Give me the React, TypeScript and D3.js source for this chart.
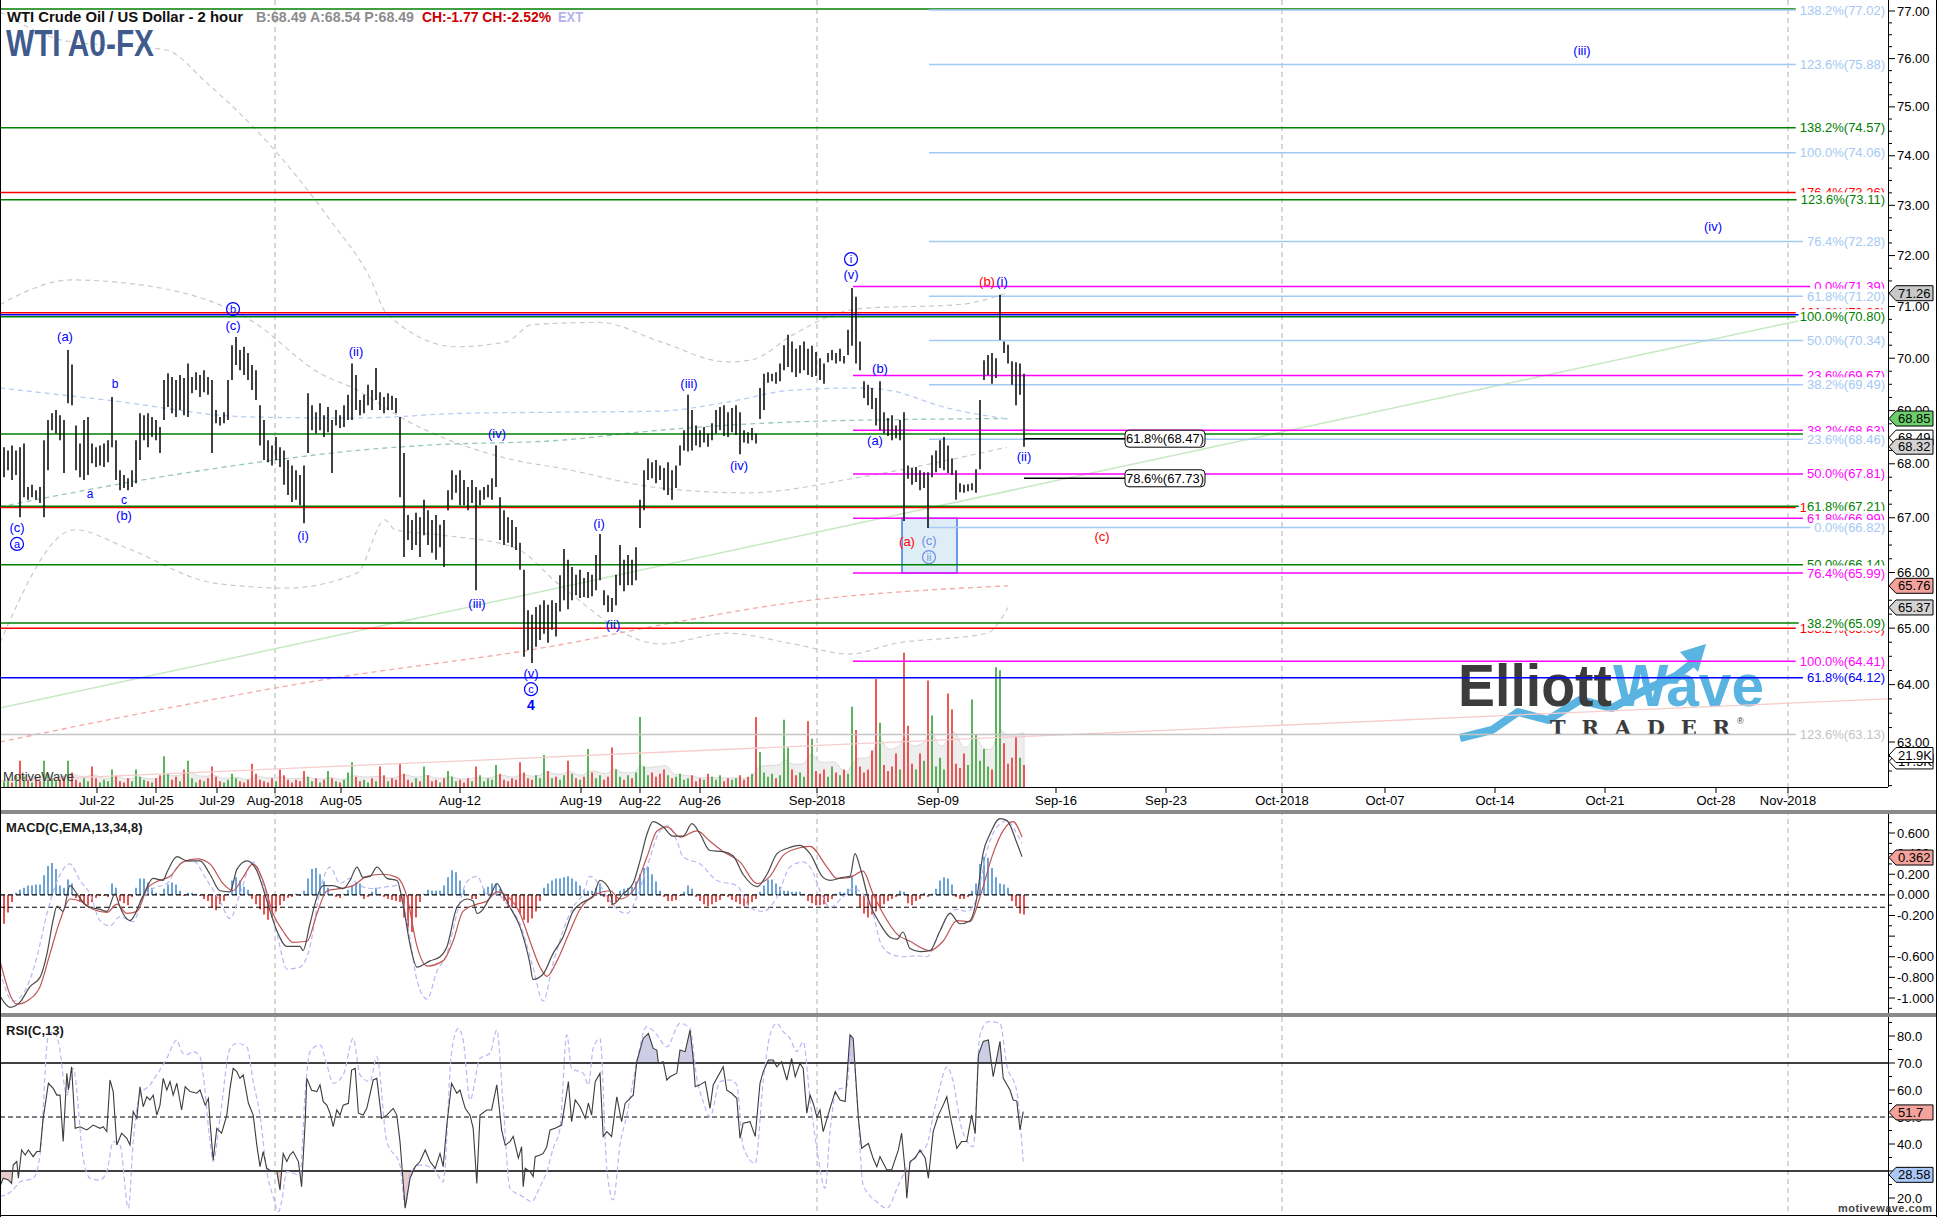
import React, { useEffect, useRef } from 'react';
import * as d3 from 'd3';

const W = 1937;
const H = 1217;
const FONT = '"Liberation Sans", Arial, Helvetica, sans-serif';

// ---------- price bars (2-hour OHLC highs / lows) ----------
const barHigh = [
  68.31,68.25,68.34,68.25,68.31,68.38,67.57,67.61,67.51,67.57,
  68.44,68.82,68.95,69.01,68.91,68.82,70.16,69.88,68.72,68.38,
  68.82,68.88,68.38,68.31,68.34,68.38,68.44,69.26,68.44,67.88,
  67.79,67.73,67.88,68.44,68.95,68.91,68.95,68.88,68.82,68.69,
  69.58,69.71,69.64,69.58,69.68,69.62,69.90,69.64,69.73,69.68,
  69.77,69.64,69.58,69.01,68.88,68.97,69.58,70.25,70.41,70.16,
  70.22,70.10,69.87,69.77,69.10,68.82,68.44,68.34,68.50,68.31,
  68.25,68.07,67.97,67.88,67.79,67.97,69.33,69.10,68.97,69.14,
  68.91,69.07,68.82,69.01,68.91,69.10,69.30,69.90,69.68,69.20,
  69.30,69.49,69.39,69.81,69.35,69.26,69.33,69.28,69.24,68.88,
  68.20,67.05,66.96,67.09,67.01,67.33,67.14,66.96,67.05,66.87,
  66.96,67.51,67.88,67.79,67.88,67.70,67.57,67.70,67.57,67.51,
  67.57,67.61,67.73,68.34,67.38,67.14,67.01,66.96,66.83,66.54,
  66.05,65.32,65.24,65.38,65.42,65.50,65.42,65.50,65.45,65.95,
  66.43,66.23,66.10,65.96,66.05,65.90,66.01,65.96,66.32,66.70,
  65.68,65.59,65.54,65.96,66.50,66.23,66.32,66.23,66.46,67.33,
  67.88,68.10,68.03,68.07,67.97,67.92,68.03,67.88,67.97,68.34,
  68.63,69.30,69.01,68.72,68.63,68.69,68.57,68.76,69.01,69.07,
  69.10,68.97,69.05,69.10,68.97,68.63,68.59,68.67,68.57,69.43,
  69.70,69.73,69.70,69.73,69.90,70.25,70.45,70.32,70.18,70.25,
  70.32,70.18,70.24,70.12,70.00,69.90,70.10,70.16,70.10,70.18,
  70.04,70.55,71.36,71.19,70.32,69.56,69.49,69.43,69.24,69.56,
  68.97,68.86,68.91,68.72,68.82,68.97,67.97,67.92,67.94,67.88,
  67.84,67.84,68.16,68.25,68.44,68.50,68.34,68.10,67.88,67.64,
  67.61,67.62,67.64,67.90,69.20,69.96,70.06,70.10,70.00,71.23,
  70.32,70.26,69.94,69.92,69.90,69.70,
];
const barLow = [
  67.75,67.88,67.70,67.79,67.01,67.38,67.33,67.38,67.33,67.27,
  67.01,67.88,68.63,68.57,68.44,67.83,69.14,69.10,67.88,67.75,
  67.70,67.79,68.01,67.94,67.97,67.94,68.03,68.31,67.70,67.51,
  67.55,67.51,67.57,67.64,68.07,68.44,68.31,68.50,68.44,68.20,
  68.82,69.07,68.95,68.88,69.01,68.91,68.88,69.33,69.39,69.26,
  69.35,69.30,68.20,68.76,68.72,68.76,68.82,69.58,69.87,69.77,
  69.68,69.58,69.39,69.20,68.34,68.07,68.03,67.97,68.07,67.94,
  67.61,67.42,67.29,67.33,67.23,66.90,68.20,68.63,68.57,68.63,
  68.50,68.59,67.83,68.72,68.67,68.69,68.82,68.82,69.01,68.91,
  68.95,69.10,69.01,69.20,69.01,68.95,69.01,69.01,68.95,67.38,
  66.28,66.59,66.41,66.50,66.28,66.68,66.50,66.36,66.23,66.46,
  66.10,67.14,67.33,67.46,67.23,67.23,67.14,67.27,65.68,67.23,
  67.33,67.38,67.33,67.57,66.59,66.50,66.54,66.46,66.41,66.05,
  64.49,64.61,64.38,64.67,64.79,64.90,64.74,64.97,64.85,65.30,
  65.50,65.34,65.50,65.59,65.54,65.56,65.54,65.57,65.68,65.86,
  65.41,65.29,65.29,65.41,65.77,65.66,65.77,65.77,65.86,66.81,
  67.14,67.70,67.73,67.64,67.70,67.51,67.42,67.33,67.55,67.97,
  68.25,68.23,68.25,68.34,68.31,68.40,68.32,68.44,68.57,68.63,
  68.52,68.50,68.59,68.54,68.18,68.40,68.38,68.44,68.38,68.84,
  69.01,69.53,69.56,69.51,69.56,69.77,69.83,69.73,69.64,69.71,
  69.77,69.68,69.64,69.66,69.58,69.51,69.92,69.96,69.90,69.94,
  69.90,70.06,70.24,69.90,69.77,69.24,69.10,69.03,68.72,68.63,
  68.57,68.52,68.44,68.48,68.44,66.94,67.72,67.61,67.66,67.51,
  67.55,66.81,67.75,67.84,67.92,67.88,67.83,67.79,67.33,67.47,
  67.46,67.49,67.51,67.46,67.90,69.58,69.68,69.51,69.62,70.35,
  70.10,69.90,69.49,69.10,69.30,68.32,
];

// ---------- volume (thousands) ----------
const volumeK = [
  4,6,3,8,18,7, 5,3,6,4,18,9, 6,4,5,7,18,10, 5,3,6,4,14,6, 3,5,4,12,8,4,
  3,6,4,12,7,5, 4,3,6,8,21,9, 5,7,4,12,18,6, 3,5,4,6,14,7, 4,3,5,9,6,4,
  3,5,16,9,5,4, 3,6,4,12,8,5, 3,5,4,11,7,4, 6,3,5,11,6,4, 3,5,10,17,7,4,
  5,3,6,4,14,8, 4,6,5,16,9,5, 3,6,4,14,8,4, 5,3,6,11,7,4, 5,3,6,4,14,8,
  4,6,5,15,9,5, 4,6,5,17,10,6, 5,8,6,22,11,6, 7,5,8,18,9,6, 5,7,26,10,6,8,
  5,7,27,12,7,5, 8,6,10,48,14,8, 10,7,9,12,8,6, 7,9,5,6,8,4, 6,5,9,7,5,8,
  4,6,5,6,8,5, 7,9,48,24,10,7, 9,6,8,46,27,12, 8,10,7,45,33,11, 9,12,7,14,10,8,
  12,9,55,39,14,10, 12,25,74,44,15,11, 14,23,12,92,42,16, 12,23,18,73,49,14,
  20,12,64,53,16,13, 23,15,60,36,18,26, 14,12,82,80,30,16, 20,34,20,15,
];

// ---------- MACD(C,EMA,13,34,8) ----------
const macdHist = [
  -0.28,-0.17,-0.07,0.02,0.05,0.07,0.09,0.09,0.10,0.10,
  0.19,0.28,0.31,0.25,0.09,0.07,0.15,0.11,-0.03,-0.07,
  -0.09,-0.10,-0.07,-0.03,-0.01,-0.01,-0.02,0.11,0.07,-0.06,
  -0.08,-0.10,-0.02,0.07,0.16,0.16,0.12,0.07,0.02,0.01,
  0.06,0.10,0.12,0.10,0.04,-0.01,0.02,0.02,0.01,-0.01,
  -0.04,-0.06,-0.12,-0.15,-0.09,-0.06,0.01,0.14,0.17,0.14,
  0.08,0.05,-0.04,-0.09,-0.14,-0.19,-0.24,-0.22,-0.16,-0.10,
  -0.06,-0.03,-0.02,0.01,-0.01,0.04,0.16,0.25,0.26,0.20,
  0.13,0.07,0.01,-0.02,-0.03,0.01,0.05,0.09,0.12,0.11,
  -0.04,-0.02,0.03,0.07,0.01,-0.02,-0.04,-0.05,-0.06,-0.07,
  -0.22,-0.35,-0.36,-0.22,-0.07,0.01,0.05,0.04,0.04,0.04,
  0.09,0.17,0.24,0.22,0.14,0.05,0.00,-0.04,-0.04,0.01,
  0.06,0.08,0.11,0.11,0.06,-0.06,-0.12,-0.12,-0.13,-0.18,
  -0.24,-0.27,-0.23,-0.16,-0.06,0.07,0.11,0.14,0.16,0.16,
  0.17,0.18,0.16,0.13,0.09,0.05,0.04,0.04,0.07,0.11,
  -0.02,-0.07,-0.10,-0.07,0.04,0.06,0.07,0.08,0.13,0.20,
  0.26,0.27,0.20,0.13,0.04,-0.02,-0.06,-0.06,-0.05,-0.01,
  0.03,0.09,0.06,-0.02,-0.06,-0.09,-0.11,-0.09,-0.07,-0.05,
  -0.01,-0.02,-0.05,-0.07,-0.09,-0.11,-0.10,-0.07,-0.04,0.03,
  0.09,0.15,0.15,0.11,0.08,0.04,0.04,0.03,0.03,0.03,
  0.01,-0.06,-0.08,-0.10,-0.10,-0.09,-0.07,-0.04,0.01,0.03,
  0.02,0.06,0.19,0.09,-0.12,-0.18,-0.22,-0.19,-0.16,-0.12,
  -0.09,-0.06,-0.04,-0.02,0.04,0.03,-0.08,-0.10,-0.06,-0.04,
  0.02,-0.02,0.01,0.06,0.14,0.17,0.16,0.10,-0.02,-0.04,
  -0.04,-0.02,0.04,0.11,0.30,0.37,0.36,0.26,0.17,0.11,
  0.10,0.07,-0.06,-0.11,-0.18,-0.19,
];
const macdLine = [[-1,-0.98],[1.5,-1.09],[4,-1.04],[6.5,-0.89],[9,-0.80],[10.75,-0.57],[12.25,-0.25],[13.25,-0.11],[14.75,-0.16],[16.5,0.09],[18.25,0.01],[20.75,-0.11],[24,-0.14],[25.75,-0.16],[27.75,0.01],[29,-0.12],[31.5,-0.25],[34.75,-0.01],[37.25,0.16],[39.75,0.14],[40.75,0.22],[43.25,0.37],[45.75,0.33],[49,0.33],[51.5,0.20],[54,0.04],[56.5,0.03],[58.25,0.25],[60.75,0.33],[63.25,0.23],[65.75,-0.06],[68.25,-0.35],[70.75,-0.50],[74,-0.50],[74.75,-0.54],[76.5,-0.28],[78.25,-0.02],[79.75,0.09],[82.25,0.09],[84.75,0.06],[86.5,0.14],[88.25,0.27],[89.75,0.17],[91.5,0.18],[93.25,0.27],[95.75,0.16],[98.25,0.14],[99.75,-0.09],[101.5,-0.48],[103.25,-0.70],[106.5,-0.64],[109,-0.60],[110.75,-0.50],[113.25,-0.12],[115.75,-0.04],[117.25,-0.06],[118.25,-0.18],[119.75,-0.14],[121.5,-0.02],[123.25,0.11],[124.75,0.01],[126.5,-0.12],[129,-0.31],[131.5,-0.67],[132.25,-0.82],[134.75,-0.77],[137.25,-0.57],[139.75,-0.41],[142.25,-0.16],[144.75,-0.07],[147.25,-0.02],[149,0.14],[151.5,0.04],[152.25,-0.09],[154.75,0.01],[157.25,0.11],[159,0.33],[160.75,0.59],[162.25,0.71],[164.75,0.66],[167.25,0.57],[169.75,0.57],[172,0.69],[174,0.59],[176.5,0.43],[179.75,0.42],[182.25,0.38],[184.75,0.20],[188.25,0.08],[190.75,0.20],[193.25,0.40],[195.75,0.45],[199,0.48],[201.5,0.40],[204.75,0.17],[206.5,0.14],[209.75,0.17],[211.5,0.18],[212.75,0.40],[214,0.27],[216.5,-0.09],[219,-0.28],[221.5,-0.41],[223.25,-0.43],[224.75,-0.36],[226.5,-0.52],[229,-0.55],[231.5,-0.54],[234,-0.35],[236.5,-0.18],[239,-0.28],[241.5,-0.25],[243.25,-0.02],[244.75,0.40],[246.5,0.59],[249,0.74],[250.75,0.72],[253.25,0.50],[254.5,0.37]];
const signalLine = [[-1,-0.64],[3.25,-1.06],[6.5,-1.01],[9,-0.89],[11.5,-0.57],[14,-0.25],[16.5,-0.04],[19,-0.06],[22.25,-0.14],[25.75,-0.17],[28.25,-0.09],[30.75,-0.18],[33.25,-0.16],[35.75,0.06],[38.25,0.13],[41.5,0.18],[44.75,0.32],[48.25,0.35],[51.5,0.30],[54.75,0.11],[57.25,0.04],[59.75,0.17],[62.25,0.30],[64.75,0.14],[67.25,-0.18],[69.75,-0.35],[72.25,-0.46],[75.75,-0.45],[78.25,-0.18],[80.75,0.04],[84,0.06],[87.25,0.09],[90.75,0.18],[94.75,0.20],[98.25,0.17],[100.75,-0.02],[103.25,-0.50],[105.75,-0.69],[109.75,-0.64],[112.25,-0.45],[114.75,-0.16],[118.25,-0.09],[120.75,-0.06],[123.25,0.03],[125.75,-0.01],[129,-0.18],[131.5,-0.45],[134,-0.70],[135.75,-0.79],[138.25,-0.64],[141.5,-0.35],[144,-0.14],[148.25,0.01],[151.5,0.04],[154,-0.04],[157.25,0.04],[160.75,0.37],[163.25,0.62],[165.75,0.66],[169,0.56],[173.25,0.62],[176.5,0.52],[179.75,0.42],[184,0.32],[188.25,0.11],[191.5,0.18],[194.75,0.38],[198.25,0.45],[201.5,0.47],[205.75,0.27],[208.25,0.16],[211.5,0.17],[214.75,0.23],[217.25,0.01],[219.75,-0.18],[223.25,-0.38],[226.5,-0.45],[231.5,-0.54],[234.75,-0.45],[238.25,-0.25],[241.5,-0.26],[244,-0.02],[247.25,0.40],[249.75,0.62],[252.25,0.71],[254.5,0.56]];
const macdFast = [[-1,-0.74],[2.25,-1.03],[5.75,-0.89],[8.25,-0.60],[10.75,-0.18],[13.25,0.13],[16.5,0.30],[19,0.14],[21.5,0.01],[24,-0.25],[26.5,-0.30],[29,-0.21],[32.25,-0.26],[34.75,-0.04],[37.25,0.06],[40.75,0.11],[44,0.30],[47.25,0.33],[50.75,0.14],[54,-0.06],[56.5,-0.23],[59,0.01],[62.25,0.32],[65.75,-0.02],[68.25,-0.38],[70.75,-0.72],[74,-0.70],[76.5,-0.50],[79,0.04],[81.5,0.27],[84,0.11],[86.5,0.16],[89,0.09],[92.25,0.06],[95.75,0.08],[98.25,0.09],[100.75,-0.25],[103.25,-0.83],[105.75,-1.01],[108.25,-0.74],[110.75,-0.57],[113.25,-0.18],[115.75,0.13],[118.25,0.18],[120.75,0.01],[123.25,0.01],[125.75,-0.09],[129,-0.28],[132.25,-0.70],[134.75,-1.03],[137.25,-0.67],[139.75,-0.35],[142.25,-0.12],[144.75,0.01],[146.5,0.18],[149,0.09],[151.5,-0.06],[154,-0.16],[155.75,-0.18],[158.25,-0.02],[160.75,0.27],[164,0.62],[166,0.67],[168.25,0.52],[169.75,0.37],[174,0.30],[178.25,0.14],[183.25,0.09],[186.5,-0.12],[189.75,-0.16],[193.25,-0.02],[196.5,0.27],[199.75,0.32],[202.25,0.22],[204,0.04],[206.5,-0.12],[209.75,-0.02],[212.25,0.06],[214.75,0.01],[217.25,-0.18],[219,-0.45],[221.5,-0.57],[224.75,-0.60],[228.25,-0.59],[230.75,-0.60],[233.25,-0.41],[235.75,-0.21],[238.25,-0.14],[240.75,-0.16],[243.25,-0.02],[245.75,0.43],[248.25,0.66],[250.75,0.72],[253.25,0.59],[254.5,0.50]];
const macdRefLines = [0, -0.12];
const macdTickLabels = [0.6, 0.4, 0.2, 0, -0.2, -0.6, -0.8, -1.0];

// ---------- RSI(C,13) ----------
const rsiLine = [[-1,24.2],[-0.2,27.3],[1.1,26.7],[1.9,25.4],[2.3,32.2],[3.2,33.5],[3.6,27.3],[4.4,37.8],[5.3,35.9],[6.1,37.8],[7.3,35.3],[8.2,37.2],[9,37.2],[9.8,49.5],[11.1,62.5],[12.3,60.6],[13.2,58.1],[14,58.1],[14.8,40.9],[15.7,66.2],[16.1,60.0],[16.9,68.6],[17.8,45.8],[19,46.4],[20.7,45.2],[22.3,47.0],[24,45.8],[24.8,46.4],[25.7,44.6],[26.5,63.7],[27.3,59.4],[28.2,39.6],[29.4,44.0],[30.7,42.1],[31.5,39.6],[32.3,52.0],[33.2,49.5],[34,61.2],[34.8,53.8],[35.7,57.5],[36.5,56.3],[37.3,58.1],[38.2,50.7],[39,54.4],[39.8,64.3],[40.7,60.0],[41.5,63.1],[42.3,58.1],[43.2,62.5],[44.4,52.6],[45.3,61.2],[46.5,59.4],[48.2,58.8],[49,60.0],[50.3,54.4],[51.1,56.9],[51.5,48.3],[52.3,34.1],[53.2,45.8],[54.4,44.0],[55.7,50.7],[56.5,60.6],[57.3,68.0],[58.2,66.8],[59,64.3],[59.8,65.6],[61.1,55.1],[62.3,50.7],[63.2,39.6],[64,31.6],[64.8,37.2],[65.7,31.0],[66.9,29.8],[68.2,29.8],[69,23.0],[69.8,36.5],[70.7,33.5],[71.5,36.0],[72.3,37.2],[73.6,33.5],[74.4,24.2],[75.3,48.3],[75.7,64.3],[76.9,59.9],[78.2,59.4],[79,61.9],[79.8,55.7],[80.7,54.4],[81.5,51.4],[82.3,46.4],[83.2,52.6],[84,50.7],[84.8,54.4],[86.1,55.1],[86.9,67.4],[87.8,68.0],[88.6,51.4],[89.8,50.7],[90.7,53.2],[92.3,63.7],[93.2,64.3],[94.4,49.5],[95.7,50.7],[97.3,53.2],[98.2,50.7],[99,40.9],[100.3,16.2],[101.5,27.3],[102.8,31.6],[104,33.5],[105.3,37.8],[106.5,33.5],[107.8,31.0],[109,36.5],[109.8,31.6],[110.7,47.0],[111.9,62.5],[113.2,58.8],[114,60.0],[115.3,53.2],[116.5,50.7],[117.3,45.8],[118.2,25.4],[119,50.7],[120.7,52.6],[121.9,52.6],[123.2,61.9],[124.4,45.2],[125.3,39.6],[126.5,40.9],[127.3,42.8],[128.6,34.8],[129.4,39.0],[129.8,24.2],[130.3,31.0],[131.5,29.8],[132.3,27.9],[132.8,35.3],[134,35.9],[134.8,36.5],[135.7,39.0],[136.5,45.2],[137.8,45.8],[139.4,47.0],[141.1,63.1],[141.9,48.3],[142.8,56.3],[144,53.8],[145.3,49.5],[146.1,55.1],[146.9,50.7],[147.8,63.1],[149,66.2],[149.8,42.8],[150.7,44.6],[151.9,42.8],[153.2,57.5],[154.4,48.3],[155.3,55.1],[157.3,58.1],[158.2,70.5],[159.8,79.1],[161.1,80.9],[162.3,75.4],[163.2,74.8],[163.6,69.9],[164.8,70.5],[165.7,63.7],[166.5,64.9],[168.2,66.2],[169,74.8],[170.3,74.2],[171.5,82.2],[172.3,71.7],[172.8,61.2],[174,61.9],[175.3,63.1],[176.5,53.2],[177.3,61.9],[179.8,68.6],[180.7,59.9],[181.9,58.8],[183.2,56.9],[184,42.1],[184.8,47.7],[186.5,48.3],[187.8,42.8],[189,62.5],[189.8,66.8],[191.1,71.1],[192.3,71.1],[193.2,68.6],[194.4,70.5],[195.7,63.7],[196.9,71.7],[197.8,64.9],[199,69.9],[199.8,68.0],[200.7,51.4],[201.5,58.1],[202.3,55.1],[203.2,50.1],[204,52.6],[204.8,44.6],[206.5,53.2],[207.8,59.4],[209,56.3],[210.3,55.7],[211.5,80.4],[212.3,79.1],[213.6,49.5],[214.4,38.4],[216.1,40.2],[217.3,34.6],[218.2,31.6],[219,35.3],[220.7,30.4],[221.9,30.4],[223.6,37.8],[224.4,44.0],[225.3,29.8],[225.7,19.9],[226.5,33.5],[227.8,34.8],[229,37.8],[230.3,34.8],[231.1,27.3],[232.3,44.6],[233.6,50.7],[234.8,54.4],[235.7,57.5],[236.5,50.7],[238.2,38.4],[239.4,40.9],[240.7,40.9],[241.9,50.7],[242.8,43.9],[243.6,73.0],[244.8,78.0],[246.1,78.5],[247.3,64.9],[249,78.0],[249.8,64.4],[251.5,60.0],[252.3,56.3],[253.2,55.9],[254,45.2],[254.8,52.0]];
const rsiFast = [[-1,20.5],[2.3,23.0],[4,26.0],[7.3,27.3],[9,35.9],[11.1,80.4],[12.3,81.6],[13.6,77.9],[15.7,58.1],[17.3,68.0],[19.8,34.7],[21.5,27.3],[24,26.7],[25.7,29.8],[27.3,40.9],[29,39.6],[31.1,16.2],[32.3,40.9],[34,58.1],[36.5,61.9],[38.2,65.6],[40.7,71.7],[43.2,78.5],[44.4,74.2],[45.7,73.0],[47.3,74.2],[49,72.3],[49.8,65.6],[51.5,40.9],[52.3,33.5],[54,49.5],[56.5,75.4],[58.2,77.3],[60.7,76.0],[62.3,63.1],[64,50.7],[65.7,29.8],[67.3,20.5],[68.6,14.9],[69.4,18.6],[70.7,29.8],[74,28.5],[75.3,59.4],[76.5,74.2],[79,76.7],[80.7,69.3],[82.3,62.5],[84.8,65.6],[87.3,79.1],[89,65.6],[91.5,63.1],[93.2,72.3],[95.7,40.9],[99,32.2],[100.3,16.8],[101.5,29.1],[104,32.2],[107.3,31.0],[109.8,26.0],[111.9,74.2],[113.6,82.8],[114.8,78.5],[116.5,56.3],[119,71.7],[121.5,73.6],[123.2,82.2],[124.8,54.4],[126.5,23.6],[129.8,20.5],[131.9,18.6],[134,24.2],[135.7,29.8],[137.3,38.4],[139,45.8],[140.7,80.4],[141.9,68.0],[144.8,66.2],[146.1,61.9],[147.3,75.4],[149,79.1],[150.7,31.0],[152.3,19.3],[154,39.6],[155.7,50.7],[158.2,70.5],[160.7,83.5],[163.2,80.4],[165.7,76.0],[169,84.7],[171.5,82.8],[173.2,64.3],[174.8,55.7],[176.5,50.1],[179,63.1],[181.5,63.7],[183.2,61.9],[184.8,39.0],[187.8,32.8],[189.8,63.1],[191.5,80.4],[193.2,84.7],[194.8,81.6],[196.5,79.1],[198.2,74.2],[199.8,77.9],[201.5,56.9],[203.2,38.4],[205.3,23.6],[206.5,44.6],[208.2,60.0],[210.7,61.2],[211.9,79.1],[213.2,58.1],[214.8,24.8],[218.2,18.6],[220.7,16.2],[223.6,24.8],[225.7,31.0],[228.2,35.9],[230.7,39.6],[232.3,50.7],[234,61.2],[235.7,68.6],[237.3,63.1],[239.4,45.8],[242.3,39.0],[244,80.4],[246.1,85.3],[249,84.7],[250.7,69.3],[253.2,59.4],[254.8,33.5]];
const rsiTicks = [20, 30, 40, 50, 60, 70, 80];
const rsiBands = [70, 30];

// ---------- overlays on price panel ([bar, price]) ----------
const bandUpper = [[-1,76.98],[15.5,76.37],[40.5,76.18],[50.75,75.49],[66.5,74.22],[81.5,72.71],[91.75,71.52],[95.5,70.88],[113.25,70.22],[125.75,70.32],[132,70.65],[149,70.69],[164,70.32],[180.75,69.93],[186.5,69.96],[197.25,70.45],[205.75,70.79],[214,70.96],[239,71.04],[251,71.27]];
const bandMiddle = [[-1,71.04],[16.75,71.52],[30.25,71.46],[61.5,70.74],[79,69.71],[88.25,69.39],[99,68.88],[127.5,68.07],[139,67.92],[164,67.55],[185.75,67.46],[214,67.75],[250.75,68.31]];
const bandLower = [[-1,64.74],[17.75,66.78],[30.25,66.46],[52.5,65.81],[70.5,65.72],[88.25,65.99],[95.25,66.96],[97.75,66.78],[109.75,66.68],[127.5,66.46],[139,65.77],[164,64.72],[180.75,64.91],[197.25,64.72],[211.5,64.54],[222.25,64.72],[245.75,64.91],[251,65.37]];
const maPink = [[-1,63.0],[25.75,63.38],[79.25,64.08],[138.75,64.70],[163.75,65.05],[197.25,65.46],[251,65.76]];
const maTeal = [[-1,67.20],[34.75,67.70],[67.75,68.07],[88.25,68.25],[106.25,68.35],[139,68.44],[164,68.63],[203.25,68.80],[251.5,68.85]];
const maBlue = [[-1,69.43],[25.75,69.20],[61.5,68.88],[88.25,68.86],[115,68.95],[139,68.97],[164,68.99],[180.75,69.16],[197.25,69.39],[214,69.43],[222.25,69.37],[234.75,69.07],[251,68.84]];
const trendGreen = [[-1,63.59],[448.5,70.72]];
const trendPink = [[-1,62.33],[471,63.75]];

// ---------- fibonacci levels (hidden: label fully covered in the source) ----------
const fibLines = [
  { price: 77.04, label: '200.0%(77.04)', kind: 'green', from: -1, hidden: true },
  { price: 77.02, label: '138.2%(77.02)', kind: 'lightblue', from: 231.25 },
  { price: 75.88, label: '123.6%(75.88)', kind: 'lightblue', from: 231.25 },
  { price: 74.57, label: '138.2%(74.57)', kind: 'green', from: -1 },
  { price: 74.06, label: '100.0%(74.06)', kind: 'lightblue', from: 231.25 },
  { price: 73.26, label: '176.4%(73.26)', kind: 'red', from: -1 },
  { price: 73.11, label: '123.6%(73.11)', kind: 'green', from: -1 },
  { price: 72.28, label: '76.4%(72.28)', kind: 'lightblue', from: 231.25 },
  { price: 71.39, label: '0.0%(71.39)', kind: 'magenta', from: 212.25 },
  { price: 71.20, label: '61.8%(71.20)', kind: 'lightblue', from: 231.25 },
  { price: 70.88, label: '161.8%(70.88)', kind: 'red', from: -1 },
  { price: 70.84, label: '78.6%(70.84)', kind: 'blue', from: -1, hidden: true },
  { price: 70.80, label: '100.0%(70.80)', kind: 'green', from: -1 },
  { price: 70.34, label: '50.0%(70.34)', kind: 'lightblue', from: 231.25 },
  { price: 69.67, label: '23.6%(69.67)', kind: 'magenta', from: 212.25 },
  { price: 69.49, label: '38.2%(69.49)', kind: 'lightblue', from: 231.25 },
  { price: 68.63, label: '38.2%(68.63)', kind: 'magenta', from: 212.25 },
  { price: 68.56, label: '78.6%(68.56)', kind: 'green', from: -1, hidden: true },
  { price: 68.46, label: '23.6%(68.46)', kind: 'lightblue', from: 231.25 },
  { price: 67.81, label: '50.0%(67.81)', kind: 'magenta', from: 212.25 },
  { price: 67.19, label: '161.8%(67.19)', kind: 'red', from: -1 },
  { price: 67.21, label: '61.8%(67.21)', kind: 'green', from: -1 },
  { price: 66.99, label: '61.8%(66.99)', kind: 'magenta', from: 212.25 },
  { price: 66.82, label: '0.0%(66.82)', kind: 'lightblue', from: 231.25 },
  { price: 66.14, label: '50.0%(66.14)', kind: 'green', from: -1 },
  { price: 65.99, label: '76.4%(65.99)', kind: 'magenta', from: 212.25 },
  { price: 65.00, label: '138.2%(65.00)', kind: 'red', from: -1 },
  { price: 65.09, label: '38.2%(65.09)', kind: 'green', from: -1 },
  { price: 64.41, label: '100.0%(64.41)', kind: 'magenta', from: 212.25 },
  { price: 64.12, label: '61.8%(64.12)', kind: 'blue', from: -1 },
  { price: 63.13, label: '123.6%(63.13)', kind: 'gray', from: -1 },
];
const fibColors = {
  green: '#008000', lightblue: '#a4c9f4', red: '#ff0000', magenta: '#ff00ff', blue: '#0000ff', gray: '#c4c4c4',
};
const retraceLevels = [
  { price: 68.47, label: '61.8%(68.47)' },
  { price: 67.73, label: '78.6%(67.73)' },
];
const retraceFrom = 255;
const retraceBox = 280.25;
const waveBox = { bar0: 224.5, bar1: 238.25, top: 66.99, bottom: 65.99 };

// ---------- wave labels ----------
const waveLabels = [
  { bar: 3.25, price: 66.83, text: '(c)' },
  { bar: 3.25, price: 66.52, text: 'a', circle: true },
  { bar: 15.25, price: 70.41, text: '(a)' },
  { bar: 21.5, price: 67.44, text: 'a', small: true },
  { bar: 27.75, price: 69.52, text: 'b', small: true },
  { bar: 30, price: 67.33, text: 'c', small: true },
  { bar: 30, price: 67.05, text: '(b)' },
  { bar: 57.25, price: 70.95, text: 'b', circle: true },
  { bar: 57.25, price: 70.64, text: '(c)' },
  { bar: 74.75, price: 66.68, text: '(i)' },
  { bar: 88, price: 70.12, text: '(ii)' },
  { bar: 118.25, price: 65.45, text: '(iii)' },
  { bar: 123.25, price: 68.56, text: '(iv)' },
  { bar: 131.75, price: 64.20, text: '(v)' },
  { bar: 131.75, price: 63.92, text: 'c', circle: true },
  { bar: 131.75, price: 63.64, text: '4', bold: true },
  { bar: 148.75, price: 66.90, text: '(i)' },
  { bar: 152.25, price: 65.07, text: '(ii)' },
  { bar: 171.25, price: 69.52, text: '(iii)' },
  { bar: 183.75, price: 67.96, text: '(iv)' },
  { bar: 211.75, price: 71.93, text: 'i', circle: true },
  { bar: 211.75, price: 71.62, text: '(v)' },
  { bar: 219, price: 69.81, text: '(b)' },
  { bar: 217.75, price: 68.44, text: '(a)' },
  { bar: 225.75, price: 66.57, text: '(a)', color: '#ff0000' },
  { bar: 231.25, price: 66.59, text: '(c)', color: '#6f8fe8' },
  { bar: 231.25, price: 66.28, text: 'ii', circle: true, color: '#6f8fe8' },
  { bar: 245.75, price: 71.48, text: '(b)', color: '#ff0000' },
  { bar: 249.5, price: 71.48, text: '(i)' },
  { bar: 255, price: 68.13, text: '(ii)' },
  { bar: 274.5, price: 66.66, text: '(c)', color: '#ff0000' },
  { bar: 394.5, price: 76.16, text: '(iii)' },
  { bar: 427.25, price: 72.57, text: '(iv)' },
];

// ---------- axes ----------
const dateTicks = [
  { bar: 23.25, label: 'Jul-22' }, { bar: 38, label: 'Jul-25' }, { bar: 53.25, label: 'Jul-29' },
  { bar: 67.75, label: 'Aug-2018' }, { bar: 84.25, label: 'Aug-05' }, { bar: 114, label: 'Aug-12' },
  { bar: 144.25, label: 'Aug-19' }, { bar: 159, label: 'Aug-22' }, { bar: 174, label: 'Aug-26' },
  { bar: 203.25, label: 'Sep-2018' }, { bar: 233.5, label: 'Sep-09' }, { bar: 263, label: 'Sep-16' },
  { bar: 290.5, label: 'Sep-23' }, { bar: 319.5, label: 'Oct-2018' }, { bar: 345.25, label: 'Oct-07' },
  { bar: 372.75, label: 'Oct-14' }, { bar: 400.25, label: 'Oct-21' }, { bar: 428, label: 'Oct-28' },
  { bar: 446, label: 'Nov-2018' },
];
const monthGrid = [67.75, 203.25, 319.5, 446];
const priceTicks = [63, 64, 65, 66, 67, 68, 69, 70, 71, 72, 73, 74, 75, 76, 77];
const priceTags = [
  { value: 71.26, text: '71.26', fill: '#c8c8c8' },
  { value: 68.85, text: '68.85', fill: '#6ccf6c' },
  { value: 68.49, text: '68.49', fill: '#ffffff' },
  { value: 68.32, text: '68.32', fill: '#d4d4d4' },
  { value: 65.76, text: '65.76', fill: '#f4a39c' },
  { value: 65.37, text: '65.37', fill: '#d4d4d4' },
];
const volumeTags = [
  { value: 17.5, text: '17.5K', fill: '#ffffff' },
  { value: 21.9, text: '21.9K', fill: '#ffffff' },
];
const macdTags = [{ value: 0.362, text: '0.362', fill: '#f4a39c' }];
const rsiTags = [
  { value: 51.7, text: '51.7', fill: '#f4a39c' },
  { value: 28.58, text: '28.58', fill: '#a9c8f6' },
];

export default function App() {
  const ref = useRef(null);

  useEffect(() => {
    const svg = d3.select(ref.current);
    svg.selectAll('*').remove();

    const AX = 1888; // right axis x
    const x = d3.scaleLinear().domain([-1, 471]).range([0, AX]);
    const yP = d3.scaleLog().domain([63, 77]).range([742, 11]);
    const yV = d3.scaleLinear().domain([0, 100]).range([787, 641]);
    const yM = d3.scaleLinear().domain([-1, 0.6]).range([998, 833]);
    const yR = d3.scaleLinear().domain([20, 80]).range([1198, 1036]);

    svg.append('rect').attr('width', W).attr('height', H).attr('fill', '#ffffff');

    const defs = svg.append('defs');
    const clip = (id, y0, h) => defs.append('clipPath').attr('id', id)
      .append('rect').attr('x', 1).attr('y', y0).attr('width', AX - 1).attr('height', h);
    clip('cp-price', 0, 787);
    clip('cp-macd', 814, 199);
    clip('cp-rsi', 1017, 198);
    defs.append('clipPath').attr('id', 'cp-rsi-hi').append('rect')
      .attr('x', 1).attr('y', 1017).attr('width', AX - 1).attr('height', yR(70) - 1017);
    defs.append('clipPath').attr('id', 'cp-rsi-lo').append('rect')
      .attr('x', 1).attr('y', yR(30)).attr('width', AX - 1).attr('height', 1215 - yR(30));

    // month grid lines
    const grid = svg.append('g');
    monthGrid.forEach((b) => {
      grid.append('line').attr('x1', x(b)).attr('x2', x(b)).attr('y1', 0).attr('y2', 1215)
        .attr('stroke', '#b0b0b0').attr('stroke-width', 1).attr('stroke-dasharray', '5,4');
    });

    // ================= PRICE PANEL =================
    const gp = svg.append('g').attr('clip-path', 'url(#cp-price)');

    // volume cloud (rolling mean)
    const volAvg = volumeK.map((_, i) => d3.mean(volumeK.slice(Math.max(0, i - 7), i + 1)));
    gp.append('path').datum(volAvg)
      .attr('d', d3.area().x((d, i) => x(i)).y0(yV(0)).y1((d) => yV(d)).curve(d3.curveBasis))
      .attr('fill', '#eeeeee').attr('stroke', '#dcdcdc').attr('stroke-width', 1);

    const mid = (i) => (barHigh[i] + barLow[i]) / 2;
    volumeK.forEach((v, i) => {
      const up = i === 0 ? true : mid(i) >= mid(i - 1);
      gp.append('line').attr('x1', x(i)).attr('x2', x(i)).attr('y1', yV(0)).attr('y2', yV(v))
        .attr('stroke', up ? '#33a033' : '#e83030').attr('stroke-width', 1.6);
    });

    // logo watermark
    const logo = gp.append('g');
    logo.append('path')
      .attr('d', 'M1460,738 L1492,730 L1518,712 L1548,720 L1580,700 L1612,708 L1645,690 L1676,676 L1694,662')
      .attr('fill', 'none').attr('stroke', '#5ab4e2').attr('stroke-width', 8).attr('stroke-linejoin', 'round');
    logo.append('polygon').attr('points', '1706,644 1680,652 1698,672').attr('fill', '#5ab4e2');
    logo.append('text').attr('x', 1458).attr('y', 706).text('Elliott')
      .attr('font-family', FONT).attr('font-weight', 'bold').attr('font-size', 60)
      .attr('textLength', 154).attr('lengthAdjust', 'spacingAndGlyphs').attr('fill', '#3c3c3c');
    logo.append('text').attr('x', 1613).attr('y', 706).text('Wave')
      .attr('font-family', FONT).attr('font-weight', 'bold').attr('font-size', 60)
      .attr('textLength', 151).attr('lengthAdjust', 'spacingAndGlyphs').attr('fill', '#5ab4e2');
    logo.append('text').attr('x', 1550).attr('y', 735).text('TRADER')
      .attr('font-family', '"DejaVu Serif", "Liberation Serif", serif').attr('font-weight', 'bold').attr('font-size', 21)
      .attr('textLength', 180).attr('lengthAdjust', 'spacing').attr('fill', '#3c3c3c');
    logo.append('text').attr('x', 1737).attr('y', 724).text('®')
      .attr('font-family', FONT).attr('font-size', 9).attr('fill', '#3c3c3c');

    // trend lines & moving averages
    const lineP = d3.line().x((d) => x(d[0])).y((d) => yP(d[1]));
    const smoothP = d3.line().x((d) => x(d[0])).y((d) => yP(d[1])).curve(d3.curveMonotoneX);
    gp.append('path').datum(trendPink).attr('d', lineP).attr('fill', 'none').attr('stroke', '#f6cccc').attr('stroke-width', 1.3);
    gp.append('path').datum(trendGreen).attr('d', lineP).attr('fill', 'none').attr('stroke', '#c6e8c2').attr('stroke-width', 1.5);
    [bandUpper, bandMiddle, bandLower].forEach((b) => {
      gp.append('path').datum(b).attr('d', smoothP).attr('fill', 'none')
        .attr('stroke', '#cacaca').attr('stroke-width', 1.2).attr('stroke-dasharray', '5,4');
    });
    gp.append('path').datum(maPink).attr('d', smoothP).attr('fill', 'none')
      .attr('stroke', '#f4a8a8').attr('stroke-width', 1.3).attr('stroke-dasharray', '5,4');
    gp.append('path').datum(maTeal).attr('d', smoothP).attr('fill', 'none')
      .attr('stroke', '#96c8b8').attr('stroke-width', 1.3).attr('stroke-dasharray', '5,4');
    gp.append('path').datum(maBlue).attr('d', smoothP).attr('fill', 'none')
      .attr('stroke', '#b8ccf6').attr('stroke-width', 1.3).attr('stroke-dasharray', '5,4');

    // wave box
    gp.append('rect').attr('x', x(waveBox.bar0)).attr('y', yP(waveBox.top))
      .attr('width', x(waveBox.bar1) - x(waveBox.bar0)).attr('height', yP(waveBox.bottom) - yP(waveBox.top))
      .attr('fill', '#dfedf6').attr('stroke', '#3a7ee6').attr('stroke-width', 1.5);

    // fib labels (measured) and lines
    const fibLabelG = svg.append('g');
    const fibLineG = gp.append('g');
    const LABEL_RIGHT = 1885;
    fibLines.forEach((f) => {
      const col = fibColors[f.kind];
      const yy = yP(f.price);
      const t = fibLabelG.append('text').attr('x', LABEL_RIGHT).attr('y', yy + 4.5)
        .attr('text-anchor', 'end').attr('font-family', FONT).attr('font-size', 13)
        .attr('fill', col).text(f.label);
      const w = t.node().getComputedTextLength();
      if (f.hidden) {
        t.remove();
      } else {
        fibLabelG.insert('rect', () => t.node())
          .attr('x', LABEL_RIGHT - w - 1).attr('y', yy - 7.5).attr('width', w + 2).attr('height', 15)
          .attr('fill', '#ffffff');
      }
      fibLineG.append('line').attr('x1', x(f.from)).attr('x2', LABEL_RIGHT - w - 4)
        .attr('y1', yy).attr('y2', yy).attr('stroke', col).attr('stroke-width', 1.5);
    });

    // price bars
    const bars = gp.append('g');
    barHigh.forEach((h, i) => {
      bars.append('line').attr('x1', x(i)).attr('x2', x(i)).attr('y1', yP(h)).attr('y2', yP(barLow[i]))
        .attr('stroke', '#000').attr('stroke-width', 1.5);
    });

    // retracement targets
    retraceLevels.forEach((r) => {
      const yy = yP(r.price);
      gp.append('line').attr('x1', x(retraceFrom)).attr('x2', x(retraceBox)).attr('y1', yy).attr('y2', yy)
        .attr('stroke', '#000').attr('stroke-width', 1.5);
      gp.append('rect').attr('x', x(retraceBox)).attr('y', yy - 8.5).attr('width', 80).attr('height', 17)
        .attr('rx', 4).attr('fill', '#fff').attr('stroke', '#000').attr('stroke-width', 1);
      gp.append('text').attr('x', x(retraceBox) + 40).attr('y', yy + 4.5).attr('text-anchor', 'middle')
        .attr('font-family', FONT).attr('font-size', 13).attr('fill', '#000').text(r.label);
    });

    // wave labels
    waveLabels.forEach((l) => {
      const cx = x(l.bar);
      const cy = yP(l.price);
      const col = l.color || '#0000ff';
      if (l.circle) {
        gp.append('circle').attr('cx', cx).attr('cy', cy).attr('r', 6.5)
          .attr('fill', 'none').attr('stroke', col).attr('stroke-width', 1.2);
        gp.append('text').attr('x', cx).attr('y', cy + 4).attr('text-anchor', 'middle')
          .attr('font-family', FONT).attr('font-size', 11).attr('fill', col).text(l.text);
      } else {
        gp.append('text').attr('x', cx).attr('y', cy + 4.5).attr('text-anchor', 'middle')
          .attr('font-family', FONT).attr('font-size', l.bold ? 14 : (l.small ? 12 : 13))
          .attr('font-weight', l.bold ? 'bold' : 'normal').attr('fill', col).text(l.text);
      }
    });

    gp.append('text').attr('x', 3).attr('y', 781).attr('font-family', FONT).attr('font-size', 13)
      .attr('fill', '#333').text('MotiveWave');

    // ================= MACD PANEL =================
    const gm = svg.append('g').attr('clip-path', 'url(#cp-macd)');
    macdHist.forEach((v, i) => {
      gm.append('line').attr('x1', x(i)).attr('x2', x(i)).attr('y1', yM(0)).attr('y2', yM(v))
        .attr('stroke', v >= 0 ? '#4a8ccc' : '#e02828').attr('stroke-width', 1.6);
    });
    macdRefLines.forEach((v) => {
      gm.append('line').attr('x1', 0).attr('x2', AX).attr('y1', yM(v)).attr('y2', yM(v))
        .attr('stroke', '#000').attr('stroke-width', 1.2).attr('stroke-dasharray', '5,3');
    });
    const lineM = d3.line().x((d) => x(d[0])).y((d) => yM(d[1])).curve(d3.curveMonotoneX);
    gm.append('path').datum(macdFast).attr('d', lineM).attr('fill', 'none')
      .attr('stroke', '#b8b8f4').attr('stroke-width', 1.2).attr('stroke-dasharray', '5,3');
    gm.append('path').datum(signalLine).attr('d', lineM).attr('fill', 'none')
      .attr('stroke', '#c05454').attr('stroke-width', 1.2);
    gm.append('path').datum(macdLine).attr('d', lineM).attr('fill', 'none')
      .attr('stroke', '#4a4a4a').attr('stroke-width', 1.2);
    svg.append('text').attr('x', 6).attr('y', 832).attr('font-family', FONT).attr('font-size', 13)
      .attr('font-weight', 'bold').attr('fill', '#1a1a1a').text('MACD(C,EMA,13,34,8)');

    // ================= RSI PANEL =================
    const gr = svg.append('g').attr('clip-path', 'url(#cp-rsi)');
    const lineR = d3.line().x((d) => x(d[0])).y((d) => yR(d[1]));
    const areaHi = d3.area().x((d) => x(d[0])).y0(yR(70)).y1((d) => yR(d[1]));
    const areaLo = d3.area().x((d) => x(d[0])).y0(yR(30)).y1((d) => yR(d[1]));
    gr.append('g').attr('clip-path', 'url(#cp-rsi-hi)').append('path').datum(rsiLine)
      .attr('d', areaHi).attr('fill', '#cdcde6');
    gr.append('g').attr('clip-path', 'url(#cp-rsi-lo)').append('path').datum(rsiLine)
      .attr('d', areaLo).attr('fill', '#e6cccc');
    rsiBands.forEach((v) => {
      gr.append('line').attr('x1', 0).attr('x2', AX).attr('y1', yR(v)).attr('y2', yR(v))
        .attr('stroke', '#000').attr('stroke-width', 1.3);
    });
    gr.append('line').attr('x1', 0).attr('x2', AX).attr('y1', yR(50)).attr('y2', yR(50))
      .attr('stroke', '#000').attr('stroke-width', 1.2).attr('stroke-dasharray', '5,3');
    gr.append('path').datum(rsiFast).attr('d', d3.line().x((d) => x(d[0])).y((d) => yR(d[1])).curve(d3.curveMonotoneX))
      .attr('fill', 'none').attr('stroke', '#b8b8f4').attr('stroke-width', 1.2).attr('stroke-dasharray', '5,3');
    gr.append('path').datum(rsiLine).attr('d', lineR).attr('fill', 'none')
      .attr('stroke', '#3c3c3c').attr('stroke-width', 1.1);
    svg.append('text').attr('x', 6).attr('y', 1035).attr('font-family', FONT).attr('font-size', 13)
      .attr('font-weight', 'bold').attr('fill', '#1a1a1a').text('RSI(C,13)');

    // ================= FRAME / AXES =================
    svg.append('rect').attr('x', 0).attr('y', 810).attr('width', W).attr('height', 4).attr('fill', '#8a8a8a');
    svg.append('rect').attr('x', 0).attr('y', 1013).attr('width', W).attr('height', 4).attr('fill', '#8a8a8a');

    const ax = svg.append('g').attr('font-family', FONT).attr('font-size', 13);
    const vline = (x0, y0, y1) => ax.append('line').attr('x1', x0).attr('x2', x0).attr('y1', y0).attr('y2', y1)
      .attr('stroke', '#000').attr('stroke-width', 1);
    const hline = (y0, x0, x1) => ax.append('line').attr('x1', x0).attr('x2', x1).attr('y1', y0).attr('y2', y0)
      .attr('stroke', '#000').attr('stroke-width', 1);
    vline(AX + 0.5, 0, 787);
    vline(AX + 0.5, 814, 1013);
    vline(AX + 0.5, 1017, 1215);
    hline(787.5, 0, AX);
    vline(0.5, 0, 1217);
    vline(W - 0.5, 0, 1217);
    hline(H - 1.5, 0, W);

    // date axis
    dateTicks.forEach((d) => {
      vline(x(d.bar), 787, 793);
      ax.append('text').attr('x', x(d.bar)).attr('y', 805).attr('text-anchor', 'middle').attr('fill', '#000').text(d.label);
    });

    // price axis
    for (let p = 62.25; p <= 77.5; p += 0.25) {
      const yy = yP(p);
      if (yy < 1 || yy > 786) continue;
      const major = Math.abs(p - Math.round(p)) < 1e-6;
      ax.append('line').attr('x1', AX).attr('x2', AX + (major ? 7 : 4)).attr('y1', yy).attr('y2', yy)
        .attr('stroke', '#000').attr('stroke-width', 1);
    }
    priceTicks.forEach((p) => {
      ax.append('text').attr('x', AX + 9).attr('y', yP(p) + 4.5).attr('fill', '#000').text(p.toFixed(2));
    });

    // macd axis
    for (let v = -1.1; v <= 0.75; v += 0.1) {
      const yy = yM(v);
      if (yy < 815 || yy > 1012) continue;
      const major = Math.abs(v * 5 - Math.round(v * 5)) < 1e-6;
      ax.append('line').attr('x1', AX).attr('x2', AX + (major ? 7 : 4)).attr('y1', yy).attr('y2', yy)
        .attr('stroke', '#000').attr('stroke-width', 1);
    }
    macdTickLabels.forEach((v) => {
      ax.append('text').attr('x', AX + 9).attr('y', yM(v) + 4.5).attr('fill', '#000').text(v.toFixed(3));
    });

    // rsi axis
    for (let v = 15; v <= 85; v += 5) {
      const yy = yR(v);
      if (yy < 1018 || yy > 1214) continue;
      ax.append('line').attr('x1', AX).attr('x2', AX + (v % 10 === 0 ? 7 : 4)).attr('y1', yy).attr('y2', yy)
        .attr('stroke', '#000').attr('stroke-width', 1);
    }
    rsiTicks.forEach((v) => {
      ax.append('text').attr('x', AX + 9).attr('y', yR(v) + 4.5).attr('fill', '#000').text(v.toFixed(1));
    });

    // value tags
    const tag = (yy, text, fill) => {
      const x0 = AX + 1;
      ax.append('path')
        .attr('d', `M${x0},${yy} L${x0 + 7},${yy - 7.5} L${x0 + 44},${yy - 7.5} L${x0 + 44},${yy + 7.5} L${x0 + 7},${yy + 7.5} Z`)
        .attr('fill', fill).attr('stroke', '#000').attr('stroke-width', 1);
      ax.append('text').attr('x', x0 + 9).attr('y', yy + 4.5).attr('fill', '#000').text(text);
    };
    priceTags.forEach((t) => tag(yP(t.value), t.text, t.fill));
    volumeTags.forEach((t) => tag(yV(t.value), t.text, t.fill));
    macdTags.forEach((t) => tag(yM(t.value), t.text, t.fill));
    rsiTags.forEach((t) => tag(yR(t.value), t.text, t.fill));

    // header texts
    const hd = svg.append('g').attr('font-family', FONT).attr('font-weight', 'bold');
    hd.append('text').attr('x', 7).attr('y', 22).attr('font-size', 15).attr('fill', '#111')
      .attr('textLength', 236).attr('lengthAdjust', 'spacingAndGlyphs').text('WTI Crude Oil / US Dollar - 2 hour');
    hd.append('text').attr('x', 256).attr('y', 22).attr('font-size', 15).attr('fill', '#8c8c8c')
      .attr('textLength', 158).attr('lengthAdjust', 'spacingAndGlyphs').text('B:68.49  A:68.54  P:68.49');
    hd.append('text').attr('x', 422).attr('y', 22).attr('font-size', 15).attr('fill', '#cc0000')
      .attr('textLength', 129).attr('lengthAdjust', 'spacingAndGlyphs').text('CH:-1.77  CH:-2.52%');
    hd.append('text').attr('x', 558).attr('y', 22).attr('font-size', 15).attr('fill', '#b4b4ee')
      .attr('textLength', 25).attr('lengthAdjust', 'spacingAndGlyphs').text('EXT');
    hd.append('text').attr('x', 6).attr('y', 56).attr('font-size', 37).attr('fill', '#3f5b8d')
      .attr('textLength', 148).attr('lengthAdjust', 'spacingAndGlyphs').text('WTI A0-FX');
    hd.append('text').attr('x', 1838).attr('y', 1212).attr('font-size', 11).attr('fill', '#444')
      .attr('textLength', 94).attr('lengthAdjust', 'spacing').text('motivewave.com');
  }, []);

  return (
    <svg
      ref={ref}
      width={W}
      height={H}
      style={{ position: 'absolute', left: 0, top: 0, display: 'block', background: '#fff' }}
    />
  );
}
